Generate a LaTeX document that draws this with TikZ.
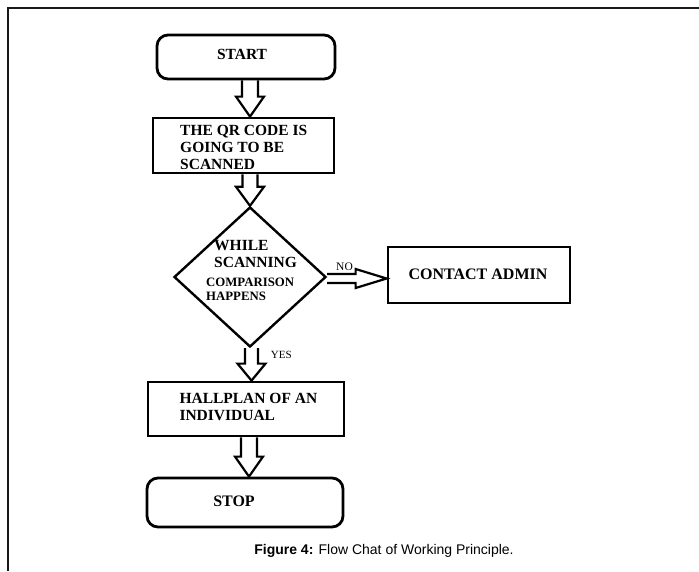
\documentclass[tikz,border=0pt]{standalone}
\usepackage{fontspec}
\setmainfont{Liberation Serif}
\newfontfamily\capfont{Liberation Sans}
\usetikzlibrary{shapes.geometric,calc}
\tikzset{
  box/.style={draw=black, line width=2.8pt, inner sep=0pt, minimum width=#1},
  term/.style={box=#1, rounded corners=11pt},
  lbl/.style={inner sep=0pt, font=\bfseries\fontsize{15.5}{17}\selectfont, align=left},
  small/.style={inner sep=0pt, font=\fontsize{11.5}{13}\selectfont},
  barrow/.style={draw=black, line width=2.2pt, line join=miter},
  frameline/.style={draw=black!90, line width=2pt}
}
% vertical block arrow: #1 x centre, #2 from, #3 to, #4 head length, #5 shaft half width
\newcommand{\vblockarrow}[5]{%
  \draw[barrow] let \p1=(#2), \p2=(#3) in
    (#1pt-#5pt,\y1) -- (#1pt-#5pt,\y2+#4pt) -- (#1pt-14pt,\y2+#4pt) -- (#1pt,\y2)
    -- (#1pt+14pt,\y2+#4pt) -- (#1pt+#5pt,\y2+#4pt) -- (#1pt+#5pt,\y1);}
% horizontal block arrow: #1 y centre, #2 from, #3 to, #4 head length, #5 shaft half, #6 head half
\newcommand{\hblockarrow}[6]{%
  \draw[barrow] let \p1=(#2), \p2=(#3) in
    (\x1,-#1pt+#5pt) -- (\x2-#4pt,-#1pt+#5pt) -- (\x2-#4pt,-#1pt+#6pt) -- (\x2,-#1pt)
    -- (\x2-#4pt,-#1pt-#6pt) -- (\x2-#4pt,-#1pt-#5pt) -- (\x1,-#1pt-#5pt);}
\begin{document}
\begin{tikzpicture}[x=1pt,y=-1pt]
\useasboundingbox (0,0) rectangle (699,571);
% frame (top and left only)
\coordinate (ftl) at (8,7.5);
\coordinate (ftr) at (699,7.5);
\coordinate (fbl) at (8,571);
\draw[frameline] (ftr) -- (ftl) -- (fbl);

% boxes
\node[term=178pt, minimum height=44pt] (start) at (246,57) {};
\node[box=181pt, minimum height=55pt] (qr) at (243.5,145.5) {};
\node[draw=black, line width=2.4pt, diamond, inner sep=0pt, minimum width=152pt, minimum height=140pt] (dec) at (250,277) {};
\node[box=182pt, minimum height=56pt] (contact) at (479,275) {};
\node[box=196pt, minimum height=54pt] (hall) at (246,409) {};
\node[term=196pt, minimum height=49pt] (stop) at (245,502.5) {};

% texts
\node[lbl] (tstart) at (242,54.5) {START};
\node[lbl, anchor=north west] (tqr) at (180,125.5) {THE QR CODE IS\\GOING TO BE\\SCANNED};
\node[lbl, anchor=north west] (twhile) at (214,240) {WHILE\\SCANNING};
\node[lbl, anchor=north west, font=\bfseries\fontsize{12.8}{13.4}\selectfont] (tcomp) at (206,278.3) {COMPARISON\\HAPPENS};
\node[lbl, font=\bfseries\fontsize{16}{18}\selectfont] (tcontact) at (478,274.3) {CONTACT ADMIN};
\node[lbl, anchor=north west] (thall) at (179.3,393.3) {HALLPLAN OF AN\\INDIVIDUAL};
\node[lbl, font=\bfseries\fontsize{16}{18}\selectfont] (tstop) at (234,501.7) {STOP};
\node[small] (tno) at (344.5,266.3) {NO};
\node[small, font=\fontsize{11}{13}\selectfont] (tyes) at (281.3,355.3) {YES};

% block arrows
\vblockarrow{250}{start.south}{qr.north}{20}{8}
\vblockarrow{250}{qr.south}{dec.north}{19}{7.5}
\vblockarrow{251.5}{dec.south}{hall.north}{17}{6.5}
\vblockarrow{249}{hall.south}{stop.north}{20}{8}
\hblockarrow{278.5}{dec.east}{contact.west}{31}{4.5}{9.5}

% caption
\node[inner sep=0pt, anchor=base, font=\capfont\fontsize{14}{16}\selectfont] (cap) at (384,554) {\textbf{Figure 4:} Flow Chat of Working Principle.};
\end{tikzpicture}
\end{document}
